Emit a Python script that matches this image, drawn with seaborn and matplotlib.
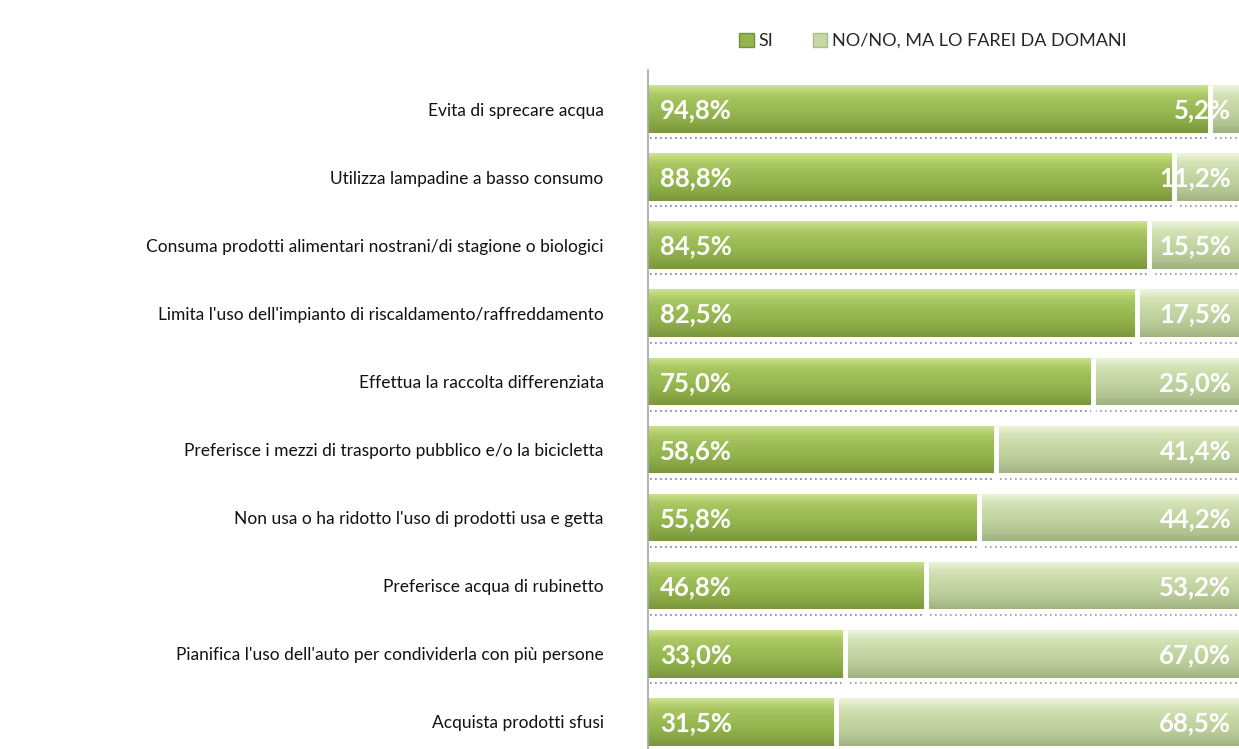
import matplotlib
matplotlib.use("Agg")
import matplotlib.pyplot as plt
import seaborn as sns
import pandas as pd
import numpy as np
from matplotlib.patches import Patch
from matplotlib.colors import LinearSegmentedColormap

categories = [
    "Evita di sprecare acqua",
    "Utilizza lampadine a basso consumo",
    "Consuma prodotti alimentari nostrani/di stagione o biologici",
    "Limita l'uso dell'impianto di riscaldamento/raffreddamento",
    "Effettua la raccolta differenziata",
    "Preferisce i mezzi di trasporto pubblico e/o la bicicletta",
    "Non usa o ha ridotto l'uso di prodotti usa e getta",
    "Preferisce acqua di rubinetto",
    "Pianifica l'uso dell'auto per condividerla con più persone",
    "Acquista prodotti sfusi",
]
si = [94.8, 88.8, 84.5, 82.5, 75.0, 58.6, 55.8, 46.8, 33.0, 31.5]
no = [5.2, 11.2, 15.5, 17.5, 25.0, 41.4, 44.2, 53.2, 67.0, 68.5]
series_names = ["SI", "NO/NO, MA LO FAREI DA DOMANI"]

sns.set_theme(style="white")
plt.rcParams['font.family'] = ['Lato', 'DejaVu Sans']

c_si = "#94b44e"
c_no = "#c6d8a6"
cmap_si = LinearSegmentedColormap.from_list(
    "si", ["#cde48f", "#abc864", "#9dbd57", "#95b54f", "#89a846", "#7a973e"])
cmap_no = LinearSegmentedColormap.from_list(
    "no", ["#eef5de", "#d4e3b6", "#c8d9a8", "#bfd19e", "#b3c592", "#9fb37f"])

fig = plt.figure(figsize=(12.39, 7.49), dpi=100)
ax = fig.add_axes([648/1239, 0.0, 1 - 648/1239, 1 - 70/749])

df = pd.DataFrame({"cat": categories, "si": si, "no": no})
df["total"] = df["si"] + df["no"]

sns.barplot(data=df, y="cat", x="total", orient="h", color=c_no, saturation=1,
            width=0.70, linewidth=0, ax=ax)
sns.barplot(data=df, y="cat", x="si", orient="h", color=c_si, saturation=1,
            width=0.70, linewidth=0, ax=ax)

ax.set_xlim(0, 100)
ax.set_ylim(9.40, -0.573)

bars = list(ax.patches)
n = len(categories)
grad = np.linspace(0, 1, 64).reshape(-1, 1)
for k, p in enumerate(bars):
    cm = cmap_no if k < n else cmap_si
    x0, y0, w, h = p.get_x(), p.get_y(), p.get_width(), p.get_height()
    im = ax.imshow(grad, cmap=cm, aspect="auto", extent=(x0, x0 + w, y0 + h, y0),
                   interpolation="bilinear", zorder=2)
    im.set_clip_path(p)
    ax.plot([x0 + 0.3, x0 + w - 0.3], [y0 + h + 0.08, y0 + h + 0.08], color="#9a9a9a",
            lw=1.2, ls=(0, (1, 2)), zorder=1)
ax.set_xlim(0, 100)
ax.set_ylim(9.40, -0.573)

for p in bars[n:]:
    x1 = p.get_x() + p.get_width()
    ax.plot([x1 + 0.25, x1 + 0.25], [p.get_y(), p.get_y() + p.get_height() + 0.12],
            color="white", lw=3.5, solid_capstyle="butt", zorder=5)

for i, (s, o) in enumerate(zip(si, no)):
    ax.text(2.0, i + 0.02, f"{s:.1f}%".replace(".", ","), color="white", fontsize=18.5,
            fontweight="bold", va="center", ha="left", zorder=6)
    ax.text(98.7, i + 0.02, f"{o:.1f}%".replace(".", ","), color="white", fontsize=18.5,
            fontweight="bold", va="center", ha="right", zorder=6)

ax.set_xlabel("")
ax.set_ylabel("")
ax.set_xticks([])
ax.tick_params(axis="y", length=0, pad=32, labelsize=12.5, labelcolor="#111111")
for sp in ["top", "right", "bottom"]:
    ax.spines[sp].set_visible(False)
ax.spines["left"].set_color("#a6a6a6")
ax.spines["left"].set_linewidth(1.2)
ax.spines["left"].set_zorder(7)

handles = [Patch(facecolor=c_si, edgecolor="#6f9233"), Patch(facecolor=c_no, edgecolor="#a9bf84")]
fig.legend(handles, series_names, loc="center", bbox_to_anchor=(933/1239, 1 - 41/749),
           ncol=2, frameon=False, fontsize=13, handlelength=0.8, handleheight=0.8,
           handletextpad=0.25, columnspacing=2.2)

fig.savefig("out.png", dpi=100)
